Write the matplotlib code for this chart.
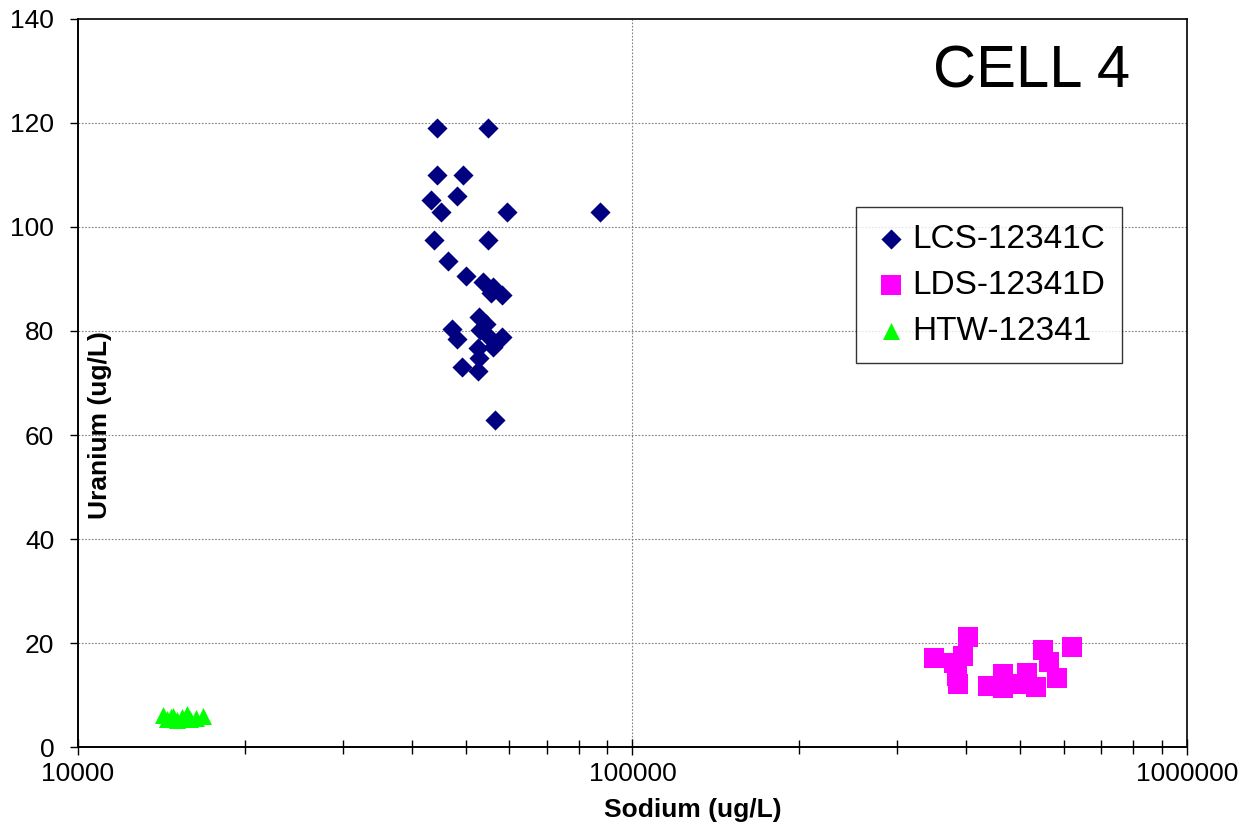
import matplotlib
matplotlib.use('Agg')
import matplotlib.pyplot as plt
from matplotlib.ticker import FixedLocator, FuncFormatter, LogLocator, NullFormatter

plt.rcParams['font.family'] = ['Liberation Sans', 'DejaVu Sans']

# Sodium (ug/L) vs Uranium (ug/L)
lcs_na = [44460, 54890, 44500, 49420, 43260, 48190, 45190, 59390, 87370, 43850,
          54950, 46550, 50150, 53690, 55970, 55520, 58170, 52920, 54430, 53090,
          47320, 48310, 55170, 58090, 55970, 52570, 52920, 49200, 52570, 56570]
lcs_u = [119.0, 119.0, 110.0, 110.0, 105.1, 106.0, 102.9, 102.9, 102.9, 97.5,
         97.4, 93.5, 90.6, 89.5, 88.5, 87.4, 86.9, 82.6, 81.3, 80.2,
         80.3, 78.4, 78.8, 78.8, 77.0, 76.7, 74.9, 73.0, 72.3, 62.8]

lds_na = [403300, 350300, 394000, 380500, 384200, 385500, 386800, 437100, 466400,
          465000, 493100, 513900, 534200, 549300, 563800, 582100, 619500]
lds_u = [21.2, 17.2, 17.5, 16.2, 14.8, 13.6, 12.2, 11.7, 14.0,
         11.3, 12.1, 14.2, 11.5, 18.6, 16.4, 13.3, 19.3]

htw_na = [14210, 14500, 14700, 14860, 15100, 15380, 15700, 15900, 16330, 16830]
htw_u = [6.2, 5.3, 5.7, 5.9, 5.2, 5.8, 6.3, 5.4, 5.6, 6.0]

x_ticks = [10000, 100000, 1000000]
y_ticks = [0, 20, 40, 60, 80, 100, 120, 140]

fig = plt.figure(figsize=(12.47, 8.24), dpi=100)
ax = fig.add_axes([0.0625, 0.0934, 0.8894, 0.8836])

ax.scatter(lcs_na, lcs_u, marker='D', s=105, color='#000080', linewidths=0,
           label='LCS-12341C', zorder=3)
ax.scatter(lds_na, lds_u, marker='s', s=190, color='#FF00FF', linewidths=0,
           label='LDS-12341D', zorder=3)
ax.scatter(htw_na, htw_u, marker='^', s=150, color='#00FF00', linewidths=0,
           label='HTW-12341', zorder=3)

ax.set_xscale('log')
ax.set_xlim(10000, 1000000)
ax.set_ylim(0, 140)
ax.xaxis.set_major_locator(FixedLocator(x_ticks))
ax.xaxis.set_major_formatter(FuncFormatter(lambda v, p: f'{int(round(v))}'))
ax.xaxis.set_minor_locator(LogLocator(base=10, subs=range(2, 10)))
ax.xaxis.set_minor_formatter(NullFormatter())
ax.set_yticks(y_ticks)

# gridlines: every 20 on y, only the 100000 line on x
for y in y_ticks[1:-1]:
    ax.axhline(y, color='#808080', linestyle=(0, (1.5, 1.5)), linewidth=0.8, zorder=1)
ax.axvline(100000, color='#808080', linestyle=(0, (1.5, 1.5)), linewidth=0.8, zorder=1)

ax.tick_params(axis='x', which='major', direction='inout', length=12, width=1,
               labelsize=19, pad=5)
ax.tick_params(axis='x', which='minor', direction='inout', length=10, width=1)
ax.tick_params(axis='y', direction='out', length=6, width=1, labelsize=19, pad=11)

for side in ['left', 'bottom']:
    ax.spines[side].set_linewidth(1.4)
for side in ['top', 'right']:
    ax.spines[side].set_linewidth(1.2)

ax.set_xlabel('Sodium (ug/L)', fontsize=19, fontweight='bold')
ax.xaxis.set_label_coords(0.554, -0.07)
ax.set_ylabel('Uranium (ug/L)', fontsize=19, fontweight='bold')
ax.yaxis.set_label_coords(0.031, 0.442)

ax.text(0.86, 0.927, 'CELL 4', transform=ax.transAxes, fontsize=43,
        ha='center', va='center')

leg = ax.legend(loc='upper left', bbox_to_anchor=(0.7015, 0.7418), fontsize=24,
                frameon=True, fancybox=False, borderpad=0.5, handletextpad=0.1,
                labelspacing=0.45, handlelength=1.1, borderaxespad=0)
leg.get_frame().set_edgecolor('black')
leg.get_frame().set_linewidth(1.0)

fig.savefig('out.png', dpi=100)
